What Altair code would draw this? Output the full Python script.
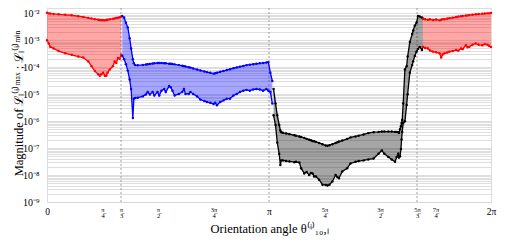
import altair as alt
import pandas as pd

# ---- data (angles in degrees) ----
red1_deg = [0, 1.4, 2.7, 5.4, 9.4, 14.8, 20, 25.4, 29.4, 33.5, 36.1, 38.8, 41.5, 42.8,
            44.1, 45.5, 46.9, 48.1, 49.1, 50.9, 53.5, 54.9, 56.2, 57.5, 58.9, 60.2]
red1_max = [1.05e-2, 1.0e-2, 9.8e-3, 9.5e-3, 9.2e-3, 8.8e-3, 8.5e-3, 7.8e-3, 7.4e-3, 6.8e-3,
            6.4e-3, 6.1e-3, 5.8e-3, 5.7e-3, 5.6e-3, 5.6e-3, 5.5e-3, 5.7e-3, 5.8e-3, 6.0e-3,
            6.3e-3, 6.5e-3, 6.7e-3, 6.9e-3, 7.2e-3, 7.6e-3]
red1_min = [1.0e-3, 7.6e-4, 5.7e-4, 5.0e-4, 4.0e-4, 3.3e-4, 2.9e-4, 2.5e-4, 2.3e-4, 1.65e-4,
            1.1e-4, 7.2e-5, 5.5e-5, 4.8e-5, 5.5e-5, 6.3e-5, 4.8e-5, 4.8e-5, 6.3e-5, 8.3e-5,
            1.1e-4, 1.65e-4, 1.45e-4, 2.2e-4, 2.05e-4, 2.9e-4]

blue_deg = [61.0, 62.5, 64.0, 65.5, 67.0, 68.2, 69.6, 70.4, 71.5, 73.6, 77.6, 80.2, 81.6, 83.4,
            85.6, 87.0, 89.6, 91.0, 92.8, 95.0, 96.3, 99.0, 100.3, 101.7, 103.5, 107.0, 109.7,
            111.0, 112.3, 115.0, 116.3, 118.5, 121.7, 124.4, 127.6, 129.7, 132.4, 135.1, 136.4,
            137.8, 140.4, 143.1, 145.8, 148.4, 151.2, 153.8, 156.4, 159.2, 161.8, 164.5, 167.2,
            169.8, 172.5, 175.2, 177.9, 179.5, 181.1, 182.7]
blue_max = [8.0e-3, 7.0e-3, 4.5e-3, 3.0e-3, 1.2e-3, 5.0e-4, 2.0e-4, 1.4e-4, 1.2e-4, 1.18e-4,
            1.22e-4, 1.26e-4, 1.3e-4, 1.33e-4, 1.37e-4, 1.4e-4, 1.44e-4, 1.44e-4, 1.43e-4,
            1.41e-4, 1.4e-4, 1.36e-4, 1.34e-4, 1.31e-4, 1.28e-4, 1.2e-4, 1.13e-4, 1.1e-4,
            1.07e-4, 1.0e-4, 9.7e-5, 9.0e-5, 8.2e-5, 7.6e-5, 7.0e-5, 6.6e-5, 6.2e-5, 5.8e-5,
            6.0e-5, 6.3e-5, 6.8e-5, 7.3e-5, 7.9e-5, 8.5e-5, 9.2e-5, 9.8e-5, 1.05e-4, 1.12e-4,
            1.2e-4, 1.25e-4, 1.3e-4, 1.35e-4, 1.4e-4, 1.45e-4, 1.5e-4, 1.55e-4, 6.3e-5, 3.1e-5]
blue_min = [2.7e-4, 2.0e-4, 1.3e-4, 7.5e-5, 3.5e-5, 1.55e-5, 1.3e-6, 6.8e-6, 7.2e-6, 7.4e-6,
            8.3e-6, 9.8e-6, 1.2e-5, 9.8e-6, 1.2e-5, 9.0e-6, 1.2e-5, 9.0e-6, 1.35e-5, 1.55e-5,
            1.2e-5, 2.0e-5, 1.8e-5, 1.35e-5, 9.0e-6, 1.02e-5, 1.2e-5, 1.55e-5, 1.02e-5, 1.02e-5,
            1.2e-5, 1.02e-5, 8.3e-6, 6.3e-6, 5.6e-6, 5.1e-6, 4.8e-6, 4.3e-6, 4.8e-6, 3.9e-6,
            5.1e-6, 5.9e-6, 6.8e-6, 6.8e-6, 9.0e-6, 1.02e-5, 1.2e-5, 1.35e-5, 1.45e-5, 1.35e-5,
            1.5e-5, 1.55e-5, 1.5e-5, 1.35e-5, 1.55e-5, 1.35e-5, 1.2e-5, 4.5e-6]

black_deg = [183.7, 185.3, 186.7, 188.3, 189.2, 189.9, 191.3, 193.9, 196.6, 200.6, 201.9, 204.6,
             206.0, 208.6, 210.5, 212.6, 214.0, 215.3, 216.6, 218.0, 220.6, 223.4, 226.0, 227.4,
             229.0, 231.4, 234.0, 235.4, 236.7, 239.4, 243.4, 246.1, 250.1, 252.7, 256.7, 260.5,
             264.8, 268.8, 271.5, 273.5, 276.8, 279.5, 282.2, 283.5, 284.8, 285.4, 286.2, 287.0,
             287.5, 288.0, 288.8, 290.2, 291.6, 292.4, 294.2, 296.1, 296.9, 298.2, 299.6, 300.9,
             302.2, 304.0, 304.8]
black_max = [1.55e-5, 4.5e-6, 1.65e-6, 7.2e-7, 4.5e-7, 3.9e-7, 3.7e-7, 3.5e-7, 3.3e-7, 3.0e-7,
             2.9e-7, 2.7e-7, 2.6e-7, 2.4e-7, 2.2e-7, 2.05e-7, 1.95e-7, 1.85e-7, 1.8e-7, 1.7e-7,
             1.55e-7, 1.4e-7, 1.25e-7, 1.23e-7, 1.28e-7, 1.4e-7, 1.55e-7, 1.65e-7, 1.75e-7,
             1.9e-7, 2.2e-7, 2.5e-7, 2.7e-7, 2.9e-7, 3.2e-7, 3.6e-7, 3.9e-7, 4.0e-7, 4.1e-7,
             4.1e-7, 4.1e-7, 4.1e-7, 4.0e-7, 4.0e-7, 3.9e-7, 3.7e-7, 5.0e-7, 6.5e-7, 8.5e-7,
             1.1e-6, 4.5e-6, 8.3e-5, 1.1e-4, 2.5e-4, 8.7e-4, 1.7e-3, 2.3e-3, 3.5e-3, 4.5e-3,
             8.0e-3, 7.6e-3, 7.0e-3, 6.4e-3]
black_min = [1.65e-6, 7.2e-7, 1.6e-7, 6.0e-8, 2.35e-8, 3.5e-8, 3.5e-8, 3.3e-8, 3.2e-8, 3.0e-8,
             3.1e-8, 2.9e-8, 1.8e-8, 1.15e-8, 1.3e-8, 1.0e-8, 1.2e-8, 1.15e-8, 8.9e-9, 8.9e-9,
             6.7e-9, 4.4e-9, 4.3e-9, 4.1e-9, 4.4e-9, 5.8e-9, 1.0e-8, 8.5e-9, 7.6e-9, 1.35e-8,
             1.8e-8, 2.7e-8, 3.1e-8, 3.3e-8, 3.5e-8, 3.8e-8, 4.1e-8, 6.2e-8, 8.2e-8, 6.2e-8,
             4.7e-8, 3.8e-8, 3.1e-8, 4.7e-8, 6.2e-8, 4.5e-8, 5.0e-8, 9.3e-8, 2.1e-7, 4.0e-7,
             8.5e-7, 1.0e-6, 4.0e-6, 1.0e-5, 6.3e-5, 1.2e-4, 1.65e-4, 2.6e-4, 3.8e-4, 4.8e-4,
             5.7e-4, 4.4e-4, 5.7e-4]

red2_deg = [304.8, 306.5, 308.9, 310.5, 312.9, 315.5, 318.3, 319.6, 320.9, 322.3, 324.5, 326.3,
            328.9, 331.7, 333.5, 335.7, 337.0, 339.7, 341.0, 342.3, 345.0, 347.7, 350.0, 353.0,
            355.0, 357.0, 358.4, 360.0]
red2_max = [6.4e-3, 6.0e-3, 5.8e-3, 6.0e-3, 5.7e-3, 5.9e-3, 5.5e-3, 5.8e-3, 6.1e-3, 6.0e-3,
            6.4e-3, 6.6e-3, 6.9e-3, 7.3e-3, 7.6e-3, 7.8e-3, 8.0e-3, 8.3e-3, 8.4e-3, 8.6e-3,
            8.9e-3, 9.2e-3, 9.4e-3, 9.6e-3, 9.8e-3, 1.0e-2, 1.0e-2, 1.03e-2]
red2_min = [5.7e-4, 5.2e-4, 5.0e-4, 4.2e-4, 3.8e-4, 3.6e-4, 3.3e-4, 2.3e-4, 3.0e-4, 3.3e-4,
            3.5e-4, 3.8e-4, 4.0e-4, 4.4e-4, 4.1e-4, 5.0e-4, 4.7e-4, 6.6e-4, 5.5e-4, 5.7e-4,
            6.8e-4, 7.6e-4, 6.8e-4, 6.6e-4, 7.2e-4, 6.9e-4, 6.3e-4, 5.7e-4]

guide_deg = [60, 180, 300]
xtick_deg = [0, 45, 60, 90, 135, 180, 225, 270, 300, 315, 360]
xtick_num = ["0", "π", "π", "π", "3π", "π", "5π", "3π", "5π", "7π", "2π"]
xtick_den = ["", "4", "3", "2", "4", "", "4", "2", "3", "4", ""]
ydec_vals = [1e-9, 1e-8, 1e-7, 1e-6, 1e-5, 1e-4, 1e-3, 1e-2]
ydec_labels = ["10⁻⁹", "10⁻⁸", "10⁻⁷", "10⁻⁶", "10⁻⁵", "10⁻⁴", "10⁻³", "10⁻²"]
minor_mult = [1, 2, 3, 4, 5, 6, 7, 8, 9]

segments = [
    ("red1", "#ff0000", red1_deg, red1_max, red1_min),
    ("blue", "#0000ff", blue_deg, blue_max, blue_min),
    ("black", "#000000", black_deg, black_max, black_min),
    ("red2", "#ff0000", red2_deg, red2_max, red2_min),
]

area_rows, line_rows = [], []
for seg, col, xs, hi, lo in segments:
    for x, h, l in zip(xs, hi, lo):
        area_rows.append({"seg": seg, "col": col, "deg": x, "hi": h, "lo": l})
        line_rows.append({"seg": seg, "key": seg + "max", "col": col, "deg": x, "v": h})
        line_rows.append({"seg": seg, "key": seg + "min", "col": col, "deg": x, "v": l})
area_df = pd.DataFrame(area_rows)
line_df = pd.DataFrame(line_rows)
guide_df = pd.DataFrame({"deg": guide_deg})

SERIF = "Liberation Serif"

# x labels: numerator over denominator (denominator carries the fraction bar)
OVER = "\u0305"
parts = []
for v, n, d in zip(xtick_deg, xtick_num, xtick_den):
    if d:
        parts.append(f"datum.value == {v} ? ['{n}', '{d}{OVER}']")
    else:
        parts.append(f"datum.value == {v} ? '{n}'")
x_label_expr = " : ".join(parts) + " : ''"
big_test = " || ".join(f"datum.value == {v}" for v, d in zip(xtick_deg, xtick_den) if not d)

y_label_expr = " : ".join(f"datum.value == {v!r} ? '{t}'" for v, t in zip(ydec_vals, ydec_labels)) + " : ''"
y_grid_vals = [m * d for d in ydec_vals[:-1] for m in minor_mult] + [ydec_vals[-1]]

x_scale = alt.Scale(domain=[0, 360], nice=False, zero=False)
y_scale = alt.Scale(type="log", domain=[1e-9, 1.58e-2], nice=False)

x_axis = alt.Axis(
    values=xtick_deg, labelExpr=x_label_expr, grid=False, ticks=False, domain=False,
    labelFont=SERIF, labelFontSize={"condition": {"test": big_test, "value": 9.5}, "value": 6.5},
    labelLineHeight=6.5, labelBaseline="top", labelPadding=4, labelOverlap=False,
    labelColor="#000", labelFlush=False,
    title="Orientation angle θ⁽ⁱ⁾₁₀,ₗ", titleFont=SERIF, titleFontSize=12.5,
    titleFontWeight="normal", titleColor="#000", titleBaseline="alphabetic", titleY=30,
)
y_axis = alt.Axis(
    values=y_grid_vals, labelExpr=y_label_expr, grid=True, gridColor="#d6d6d6", gridWidth=0.8,
    ticks=False, domain=False, labelFont=SERIF, labelFontSize=10, labelPadding=8,
    labelOverlap=False, labelColor="#000", labelBaseline="middle",
    title="Magnitude of ℒₗ⁽ⁱ⁾ᵐᵃˣ ; ℒₗ⁽ⁱ⁾ᵐⁱⁿ", titleFont=SERIF, titleFontSize=12.5,
    titleFontWeight="normal", titleColor="#000", titleAngle=270, titleAlign="center",
    titleBaseline="alphabetic", titleX=-25, titleY=95,
)

guides = alt.Chart(guide_df).mark_rule(color="#888", strokeDash=[2, 2], strokeWidth=0.8).encode(
    x=alt.X("deg:Q", scale=x_scale, axis=x_axis),
)

areas = alt.Chart(area_df).mark_area(opacity=0.35, interpolate="linear").encode(
    x=alt.X("deg:Q", scale=x_scale, axis=x_axis),
    y=alt.Y("lo:Q", scale=y_scale, axis=y_axis),
    y2="hi:Q",
    color=alt.Color("col:N", scale=None),
    detail="seg:N",
)

lines = alt.Chart(line_df).mark_line(strokeWidth=1.3).encode(
    x=alt.X("deg:Q", scale=x_scale),
    y=alt.Y("v:Q", scale=y_scale),
    color=alt.Color("col:N", scale=None),
    detail="key:N",
    order="deg:Q",
)
points = alt.Chart(line_df).mark_circle(size=6, opacity=1).encode(
    x=alt.X("deg:Q", scale=x_scale),
    y=alt.Y("v:Q", scale=y_scale),
    color=alt.Color("col:N", scale=None),
)

chart = alt.layer(guides, areas, lines, points).properties(
    width=444, height=194,
    autosize=alt.AutoSizeParams(type="none"),
    padding={"left": 39, "top": 0, "right": 7, "bottom": 35},
).configure_view(stroke="#7a7a7a", strokeWidth=1).configure(background="white")

chart.save("out.html", embed_options={"renderer": "svg", "actions": False})
